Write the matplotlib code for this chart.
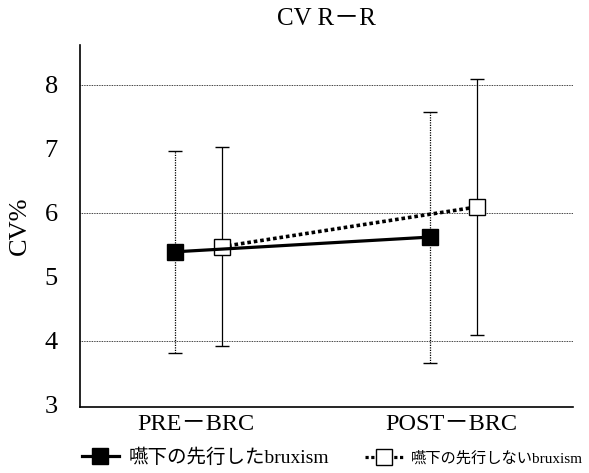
import numpy as np
import matplotlib.pyplot as plt
from matplotlib.lines import Line2D

# values
categories = ['PRE－BRC', 'POST－BRC']
preceded_mean = [5.39, 5.62]
preceded_sd = [1.58, 1.96]
not_preceded_mean = [5.47, 6.09]
not_preceded_sd = [1.55, 2.0]
series_labels = ['嚥下の先行したbruxism', '嚥下の先行しないbruxism']

serif = ['Liberation Serif', 'Noto Sans CJK JP']
plt.rcParams['font.family'] = serif

fig = plt.figure(figsize=(5.89, 4.73), dpi=100)
ax = fig.add_axes([0.136, 0.14, 0.837, 0.765])

x = np.arange(len(categories))
x_a = x - 0.082
x_b = x + 0.10

# filled squares, solid line, dotted error bars
eb = ax.errorbar(x_a, preceded_mean, yerr=preceded_sd, fmt='none', ecolor='black',
                 elinewidth=0.9, capsize=5, capthick=1.0, zorder=2)
eb[2][0].set_linestyle((0, (1, 1)))
ax.plot(x_a, preceded_mean, color='black', lw=2.3, marker='s', markersize=11,
        markerfacecolor='black', markeredgecolor='black', zorder=4)

# open squares, dotted line, solid error bars
ax.errorbar(x_b, not_preceded_mean, yerr=not_preceded_sd, fmt='none', ecolor='black',
            elinewidth=0.9, capsize=5, capthick=1.0, zorder=2)
ax.plot(x_b, not_preceded_mean, color='black', lw=2.6, linestyle=(0, (1, 0.8)),
        marker='s', markersize=11, markerfacecolor='white', markeredgecolor='black',
        markeredgewidth=1.0, zorder=3)

ax.set_xlim(-0.455, 1.478)
ax.set_ylim(2.97, 8.62)
ax.set_xticks(x)
ax.set_xticklabels(categories, fontsize=17.5)
ax.set_yticks([3, 4, 5, 6, 7, 8])
ax.tick_params(axis='y', length=0, labelsize=19, pad=16)
ax.tick_params(axis='x', length=0, pad=5)
for gy in [4, 6, 8]:
    ax.axhline(gy, color='black', lw=0.6, linestyle=(0, (1, 1)), zorder=1)
for s in ['top', 'right']:
    ax.spines[s].set_visible(False)
ax.spines['left'].set_linewidth(1.2)
ax.spines['bottom'].set_linewidth(1.2)

ax.set_ylabel('CV%', fontsize=19, labelpad=10)
ax.set_title('CV R－R', fontsize=18, pad=14)

h1 = Line2D([], [], color='black', lw=2.3, marker='s', markersize=11,
            markerfacecolor='black')
h2 = Line2D([], [], color='black', lw=2.3, linestyle=(0, (1, 0.8)), marker='s',
            markersize=11, markerfacecolor='white', markeredgewidth=1.0)
fig.legend([h1], [series_labels[0]], loc='lower left', bbox_to_anchor=(0.129, 0.0),
           frameon=False, fontsize=14, handlelength=1.9, handletextpad=0.5,
           borderpad=0.3, borderaxespad=0)
fig.legend([h2], [series_labels[1]], loc='lower left', bbox_to_anchor=(0.612, 0.006),
           frameon=False, fontsize=11, handlelength=2.5, handletextpad=0.5,
           borderpad=0.3, borderaxespad=0)

fig.savefig('out.png', dpi=100)
